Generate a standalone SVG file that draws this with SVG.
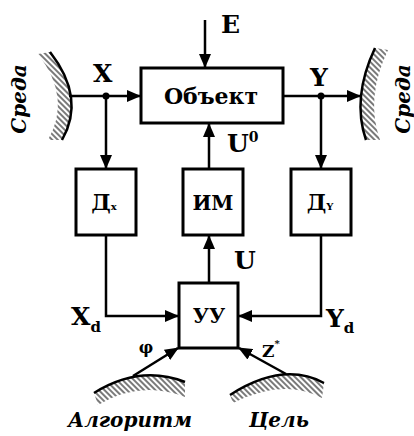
<svg xmlns="http://www.w3.org/2000/svg" width="414" height="436" viewBox="0 0 414 436">
<style>
.box{fill:#fff;stroke:#000;stroke-width:3}
.ln{fill:none;stroke:#000;stroke-width:2.5}
.arc{fill:none;stroke:#000;stroke-width:2.5}
.t{font-family:"DejaVu Serif","Liberation Serif",serif;font-weight:bold;fill:#000}
.it{font-family:"DejaVu Serif","Liberation Serif",serif;font-weight:bold;font-style:italic;fill:#000}
</style>
<defs>
<marker id="ah" markerUnits="userSpaceOnUse" markerWidth="14" markerHeight="12" refX="13" refY="6" orient="auto">
<path d="M0,0 L14,6 L0,12 z" fill="#000"/>
</marker>
<pattern id="hatch" x="0" y="0" width="4" height="4" patternUnits="userSpaceOnUse" patternTransform="rotate(-45)">
<rect x="1.4" y="0" width="1.2" height="4" fill="#222"/>
</pattern>
</defs>

<g id="env-left">
<path d="M50,52 Q86,98 62,140 L48,140 Q72,98 38,54 z" fill="url(#hatch)"/>
<path class="arc" d="M50,52 Q86,98 62,140"/>
<text class="it" font-size="20" text-anchor="middle" transform="translate(26,99) rotate(-90)">Среда</text>
</g>
<g id="env-right">
<path d="M375,48 Q351.5,98 366,140 L380,140 Q365,98 388,50 z" fill="url(#hatch)"/>
<path class="arc" d="M375,48 Q351.5,98 366,140"/>
<text class="it" font-size="20" text-anchor="middle" transform="translate(410,99) rotate(-90)">Среда</text>
</g>
<g id="algorithm">
<path d="M94,393 Q140,364.5 185,382 L185,397 Q140,380 98,405 z" fill="url(#hatch)"/>
<path class="arc" d="M94,393 Q140,364.5 185,382"/>
<text class="it" font-size="20" x="130" y="427" text-anchor="middle">Алгоритм</text>
</g>
<g id="goal">
<path d="M230,395 Q283,361 324,383 L322,398 Q283,378 233,403 z" fill="url(#hatch)"/>
<path class="arc" d="M230,395 Q283,361 324,383"/>
<text class="it" font-size="20" x="279" y="427" text-anchor="middle">Цель</text>
</g>

<g id="object">
<rect class="box" x="141" y="68" width="142" height="55"/>
<text class="t" font-size="22" x="211" y="104" text-anchor="middle">Объект</text>
</g>
<g id="dx">
<rect class="box" x="76" y="169" width="60" height="66"/>
<text class="t" font-size="22" x="104" y="210" text-anchor="middle">Д<tspan font-size="10">x</tspan></text>
</g>
<g id="im">
<rect class="box" x="183" y="169" width="60" height="66"/>
<text class="t" font-size="20" x="213" y="210" text-anchor="middle">ИМ</text>
</g>
<g id="dy">
<rect class="box" x="291" y="169" width="60" height="66"/>
<text class="t" font-size="22" x="320" y="210" text-anchor="middle">Д<tspan font-size="10">Y</tspan></text>
</g>
<g id="uu">
<rect class="box" x="179" y="283" width="59" height="65"/>
<text class="t" font-size="20" x="209" y="323" text-anchor="middle">УУ</text>
</g>

<g id="connectors">
<line class="ln" x1="205" y1="20" x2="205" y2="67" marker-end="url(#ah)"/>
<line class="ln" x1="69" y1="96" x2="140" y2="96" marker-end="url(#ah)"/>
<line class="ln" x1="106" y1="96" x2="106" y2="168" marker-end="url(#ah)"/>
<circle cx="106" cy="96" r="3.5" fill="#000"/>
<line class="ln" x1="283" y1="96" x2="360" y2="96" marker-end="url(#ah)"/>
<line class="ln" x1="321" y1="96" x2="321" y2="168" marker-end="url(#ah)"/>
<circle cx="321" cy="96" r="3.5" fill="#000"/>
<polyline class="ln" points="106,235 106,316 178,316" marker-end="url(#ah)"/>
<polyline class="ln" points="321,235 321,316 239,316" marker-end="url(#ah)"/>
<line class="ln" x1="209" y1="283" x2="209" y2="236" marker-end="url(#ah)"/>
<line class="ln" x1="209" y1="169" x2="209" y2="124" marker-end="url(#ah)"/>
<line class="ln" x1="133" y1="376" x2="178" y2="348" marker-end="url(#ah)"/>
<line class="ln" x1="286" y1="374" x2="239" y2="348" marker-end="url(#ah)"/>
</g>

<g id="labels">
<text class="t" font-size="25" x="221" y="33">E</text>
<text class="t" font-size="25" x="93" y="82">X</text>
<text class="t" font-size="25" x="310" y="86">Y</text>
<text class="t" font-size="25" x="227" y="152">U<tspan font-size="14" dy="-10">0</tspan></text>
<text class="t" font-size="25" x="234" y="269">U</text>
<text class="t" font-size="25" x="71" y="325">X<tspan font-size="15" dy="7">d</tspan></text>
<text class="t" font-size="25" x="326" y="327">Y<tspan font-size="15" dy="6">d</tspan></text>
<text class="t" font-size="16" x="146" y="353" text-anchor="middle">φ</text>
<text class="t" font-size="17" x="262" y="357">Z<tspan font-size="10" dy="-10">*</tspan></text>
</g>
</svg>
